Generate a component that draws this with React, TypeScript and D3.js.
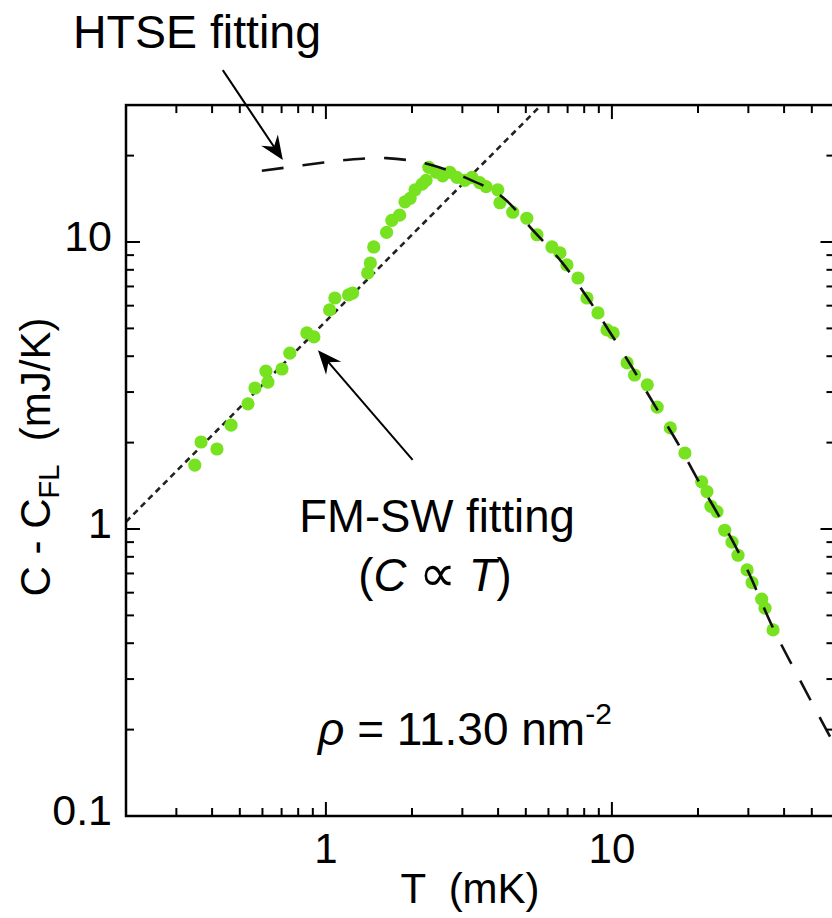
import React from "react";
import * as d3 from "d3";

// Measured specific heat (T in mK, C - C_FL in mJ/K)
const T_DATA = [0.348, 0.366, 0.416, 0.466, 0.534, 0.565, 0.617, 0.627, 0.702, 0.748, 0.858, 0.908,
  1.03, 1.075, 1.2, 1.24, 1.4, 1.43, 1.47, 1.63, 1.7, 1.81, 1.89, 1.97, 2.05, 2.17, 2.24, 2.29,
  2.43, 2.56, 2.71, 2.87, 3.06, 3.24, 3.45, 3.63, 3.99, 4.06, 4.5, 5.04, 5.47, 6.17, 6.58, 6.96,
  7.61, 8.18, 8.94, 9.61, 10.1, 11.3, 12.0, 13.3, 14.4, 16.0, 18.0, 20.6, 21.5, 22.2, 23.3, 24.8,
  26.3, 27.6, 29.7, 30.9, 33.4, 34.3, 36.6];
const C_DATA = [1.67, 2.01, 1.9, 2.3, 2.73, 3.1, 3.55, 3.25, 3.61, 4.1, 4.82, 4.67,
  5.8, 6.38, 6.54, 6.64, 7.8, 8.45, 9.61, 10.8, 11.9, 12.4, 13.8, 14.2, 15.2, 15.9, 16.4, 18.2,
  17.5, 17.0, 17.5, 16.8, 16.4, 16.8, 16.1, 15.6, 15.2, 13.7, 12.7, 12.1, 10.6, 9.61, 9.16, 8.32,
  7.49, 6.38, 5.66, 4.94, 4.82, 3.79, 3.44, 3.18, 2.66, 2.25, 1.84, 1.46, 1.35, 1.2, 1.15, 0.99,
  0.9, 0.81, 0.72, 0.65, 0.57, 0.53, 0.445];

// HTSE fit curve
const HTSE_T = [0.597, 0.831, 1.165, 1.63, 2.27, 3.06, 4.12, 5.29, 6.68, 8.18, 9.84, 11.8, 14.1,
  16.9, 20.0, 23.3, 29.2, 36.6, 45.4, 60.7];
const HTSE_C = [17.7, 18.5, 19.3, 19.6, 18.7, 16.8, 14.4, 11.0, 8.51, 6.43, 4.85, 3.64, 2.7,
  2.01, 1.48, 1.14, 0.75, 0.452, 0.298, 0.173];

// FM spin-wave fit, C ∝ T
const FMSW_T = [0.2, 60];
const FMSW_C = [1.06, 318];

const X_MAJOR = [1, 10];
const X_MAJOR_LABELS = ["1", "10"];
const Y_MAJOR = [0.1, 1, 10];
const Y_MAJOR_LABELS = ["0.1", "1", "10"];

const W = 832;
const H = 918;
const FONT = "'Liberation Sans', Arial, Helvetica, sans-serif";

export default function App() {
  const x = d3.scaleLog().domain([0.2, 60]).range([126, 126 + Math.log10(300) * 286]);
  const y = d3.scaleLog().domain([0.1, 30]).range([816, 816 - Math.log10(300) * 287]);
  const [x0, x1] = x.range();
  const [y0, y1] = y.range();

  const xMinor: number[] = [];
  for (const dec of [0.1, 1, 10]) for (let k = 2; k <= 9; k++) {
    const v = dec * k;
    if (v > 0.2 && v < 60) xMinor.push(v);
  }
  const yMinor: number[] = [];
  for (const dec of [0.1, 1, 10]) for (let k = 2; k <= 9; k++) {
    const v = dec * k;
    if (v > 0.1 && v < 30) yMinor.push(v);
  }
  const MAJ = 14, MIN = 8;

  const line = d3.line<[number, number]>()
    .x((d) => x(d[0]))
    .y((d) => y(d[1]))
    .curve(d3.curveCatmullRom.alpha(0.5));
  const htsePath = line(HTSE_T.map((t, i) => [t, HTSE_C[i]] as [number, number])) || "";
  const fmPath = d3.line<[number, number]>().x((d) => x(d[0])).y((d) => y(d[1]))(
    FMSW_T.map((t, i) => [t, FMSW_C[i]] as [number, number])) || "";

  const arrow = (t0: number, c0: number, t1: number, c1: number, key: string) => {
    const ax = x(t0), ay = y(c0), bx = x(t1), by = y(c1);
    const ang = (Math.atan2(by - ay, bx - ax) * 180) / Math.PI;
    return (
      <g key={key}>
        <line x1={ax} y1={ay} x2={bx - 10 * Math.cos((ang * Math.PI) / 180)} y2={by - 10 * Math.sin((ang * Math.PI) / 180)} stroke="#000" strokeWidth={2} />
        <path d="M0,0 L-24,-10 L-16,0 L-24,10 Z" fill="#000" transform={`translate(${bx},${by}) rotate(${ang})`} />
      </g>
    );
  };

  return (
    <svg width={W} height={H} style={{ position: "absolute", left: 0, top: 0, background: "#fff" }} fontFamily={FONT}>
      <defs>
        <clipPath id="plot">
          <rect x={x0} y={y1} width={x1 - x0} height={y0 - y1} />
        </clipPath>
      </defs>
      <rect width={W} height={H} fill="#fff" />
      {/* Fit lines */}
      <g clipPath="url(#plot)">
        <path d={fmPath} fill="none" stroke="#222" strokeWidth={2.6} strokeDasharray="6 4.5" />
      </g>
      {/* Data */}
      <g>
        {T_DATA.map((t, i) => (
          <circle key={i} cx={x(t)} cy={y(C_DATA[i])} r={6.6} fill="#77E21F" />
        ))}
      </g>
      <g clipPath="url(#plot)">
        <path d={htsePath} fill="none" stroke="#111" strokeWidth={2.6} strokeDasharray="22 19" />
      </g>
      {/* Frame */}
      <rect x={x0} y={y1} width={x1 - x0} height={y0 - y1} fill="none" stroke="#000" strokeWidth={2.5} />
      {/* X ticks */}
      {X_MAJOR.map((v) => (
        <g key={"xm" + v}>
          <line x1={x(v)} x2={x(v)} y1={y0} y2={y0 - MAJ} stroke="#000" strokeWidth={2} />
          <line x1={x(v)} x2={x(v)} y1={y1} y2={y1 + MAJ} stroke="#000" strokeWidth={2} />
        </g>
      ))}
      {xMinor.map((v) => (
        <g key={"xn" + v}>
          <line x1={x(v)} x2={x(v)} y1={y0} y2={y0 - MIN} stroke="#000" strokeWidth={2} />
          <line x1={x(v)} x2={x(v)} y1={y1} y2={y1 + MIN} stroke="#000" strokeWidth={2} />
        </g>
      ))}
      {/* Y ticks */}
      {Y_MAJOR.map((v) => (
        <g key={"ym" + v}>
          <line x1={x0} x2={x0 + MAJ} y1={y(v)} y2={y(v)} stroke="#000" strokeWidth={2} />
          <line x1={x1} x2={x1 - MAJ} y1={y(v)} y2={y(v)} stroke="#000" strokeWidth={2} />
        </g>
      ))}
      {yMinor.map((v) => (
        <g key={"yn" + v}>
          <line x1={x0} x2={x0 + MIN} y1={y(v)} y2={y(v)} stroke="#000" strokeWidth={2} />
          <line x1={x1} x2={x1 - MIN} y1={y(v)} y2={y(v)} stroke="#000" strokeWidth={2} />
        </g>
      ))}
      {/* Tick labels */}
      {X_MAJOR.map((v, i) => (
        <text key={"xl" + v} x={x(v)} y={863} textAnchor="middle" fontSize={42}>{X_MAJOR_LABELS[i]}</text>
      ))}
      {Y_MAJOR.map((v, i) => (
        <text key={"yl" + v} x={112} y={y(v) + 9} textAnchor="end" fontSize={43}>{Y_MAJOR_LABELS[i]}</text>
      ))}
      {/* Axis titles */}
      <text x={470} y={903} textAnchor="middle" fontSize={42} style={{ whiteSpace: "pre" }}>T  (mK)</text>
      <text transform="translate(50,457) rotate(-90)" textAnchor="middle" fontSize={42} style={{ whiteSpace: "pre" }}>
        C - C<tspan fontSize={29} dy={9}>FL</tspan><tspan dy={-9}>  (mJ/K)</tspan>
      </text>
      {/* Annotations */}
      <text x={73} y={48} fontSize={46.5}>HTSE fitting</text>
      {arrow(0.436, 39.7, 0.707, 19.3, "a1")}
      {arrow(2.01, 1.74, 0.938, 4.2, "a2")}
      <text x={437} y={532} textAnchor="middle" fontSize={45.5}>FM-SW fitting</text>
      <text x={435} y={591} textAnchor="middle" fontSize={45.5} style={{ whiteSpace: "pre" }}>
        (<tspan fontStyle="italic">C</tspan> <tspan fontSize={52}>∝</tspan> <tspan fontStyle="italic">T</tspan>)
      </text>
      <text x={318} y={745} fontSize={46} style={{ whiteSpace: "pre" }}>
        <tspan fontStyle="italic">ρ</tspan> = 11.30 nm<tspan fontSize={30} dy={-21}>-2</tspan>
      </text>
    </svg>
  );
}
